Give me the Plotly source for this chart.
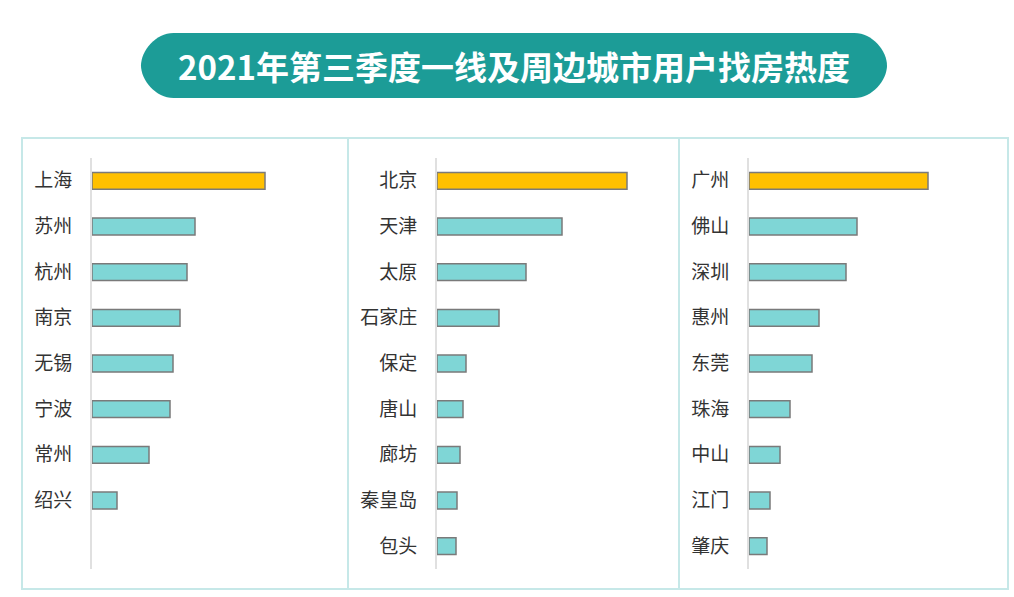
import plotly.graph_objects as go

title_text = "2021年第三季度一线及周边城市用户找房热度"

cities_1 = ["上海", "苏州", "杭州", "南京", "无锡", "宁波", "常州", "绍兴"]
heat_1 = [173, 103, 95, 88, 81, 78, 57, 25]

cities_2 = ["北京", "天津", "太原", "石家庄", "保定", "唐山", "廊坊", "秦皇岛", "包头"]
heat_2 = [190, 125, 89, 62, 29, 26, 23, 20, 19]

cities_3 = ["广州", "佛山", "深圳", "惠州", "东莞", "珠海", "中山", "江门", "肇庆"]
heat_3 = [179, 108, 97, 70, 63, 41, 31, 21, 18]

W, H = 1014, 597
GOLD = "#FFC000"
TEAL = "#7FD6D6"
FONT = "Noto Sans CJK SC"

panels = [(cities_1, heat_1, 92), (cities_2, heat_2, 437), (cities_3, heat_3, 749)]
x_span = 230  # px of axis width for each panel

fig = go.Figure()
layout_axes = {}
y_top, y_bot = 158, 569
for i, (cities, vals, x0) in enumerate(panels, start=1):
    xa = "x" if i == 1 else f"x{i}"
    ya = "y" if i == 1 else f"y{i}"
    pos = list(range(len(cities)))
    colors = [GOLD if j == 0 else TEAL for j in range(len(cities))]
    fig.add_trace(go.Bar(
        x=vals, y=pos, orientation="h", xaxis=xa, yaxis=ya,
        marker=dict(color=colors, line=dict(color="#7a7a7a", width=1.5)),
        width=0.37, hoverinfo="x+y", showlegend=False,
    ))
    xkey = "xaxis" if i == 1 else f"xaxis{i}"
    ykey = "yaxis" if i == 1 else f"yaxis{i}"
    layout_axes[xkey] = dict(
        domain=[x0 / W, (x0 + x_span) / W], range=[0, x_span],
        visible=False, fixedrange=True, anchor=ya,
    )
    layout_axes[ykey] = dict(
        domain=[1 - y_bot / H, 1 - y_top / H], range=[8.5, -0.5],
        tickvals=pos, ticktext=cities, showgrid=False, zeroline=False,
        showline=True, linecolor="#e0e0e0", linewidth=2,
        ticks="", ticklabelstandoff=14,
        tickfont=dict(family=FONT, size=19, color="#333333"),
        anchor=xa, fixedrange=True,
    )

# overlay axis in pixel units for decorations
layout_axes["xaxis4"] = dict(domain=[0, 1], range=[0, W], visible=False, fixedrange=True, anchor="y4")
layout_axes["yaxis4"] = dict(domain=[0, 1], range=[H, 0], visible=False, fixedrange=True, anchor="x4")
fig.add_trace(go.Scatter(x=[0], y=[0], xaxis="x4", yaxis="y4", mode="markers",
                         marker=dict(opacity=0), hoverinfo="skip", showlegend=False))

shapes = []
border = "#c6e8e8"
shapes.append(dict(type="rect", xref="x4", yref="y4", x0=22, y0=138, x1=1008, y1=589,
                   line=dict(color=border, width=2), layer="below"))
for xd in (348, 679):
    shapes.append(dict(type="line", xref="x4", yref="y4", x0=xd, y0=138, x1=xd, y1=589,
                       line=dict(color=border, width=2), layer="below"))

# title pill
l, r, t, b = 141, 887, 33, 98
rad = (b - t) / 2
path = (f"M {l+rad},{t} L {r-rad},{t} C {r-rad*0.45},{t} {r},{t+rad*0.55} {r},{t+rad} "
        f"C {r},{b-rad*0.55} {r-rad*0.45},{b} {r-rad},{b} L {l+rad},{b} "
        f"C {l+rad*0.45},{b} {l},{b-rad*0.55} {l},{b-rad} "
        f"C {l},{t+rad*0.55} {l+rad*0.45},{t} {l+rad},{t} Z")
shapes.append(dict(type="path", xref="x4", yref="y4", path=path,
                   fillcolor="#1c9c97", line=dict(width=0), layer="below"))

fig.add_annotation(x=514, y=66, xref="x4", yref="y4", text=f"<b>{title_text}</b>",
                   showarrow=False, font=dict(family=FONT, size=33, color="white"),
                   xanchor="center", yanchor="middle")

fig.update_layout(
    width=W, height=H, margin=dict(l=0, r=0, t=0, b=0),
    paper_bgcolor="white", plot_bgcolor="rgba(0,0,0,0)",
    shapes=shapes, bargap=0.6, **layout_axes,
)
fig.write_html("out.html")
